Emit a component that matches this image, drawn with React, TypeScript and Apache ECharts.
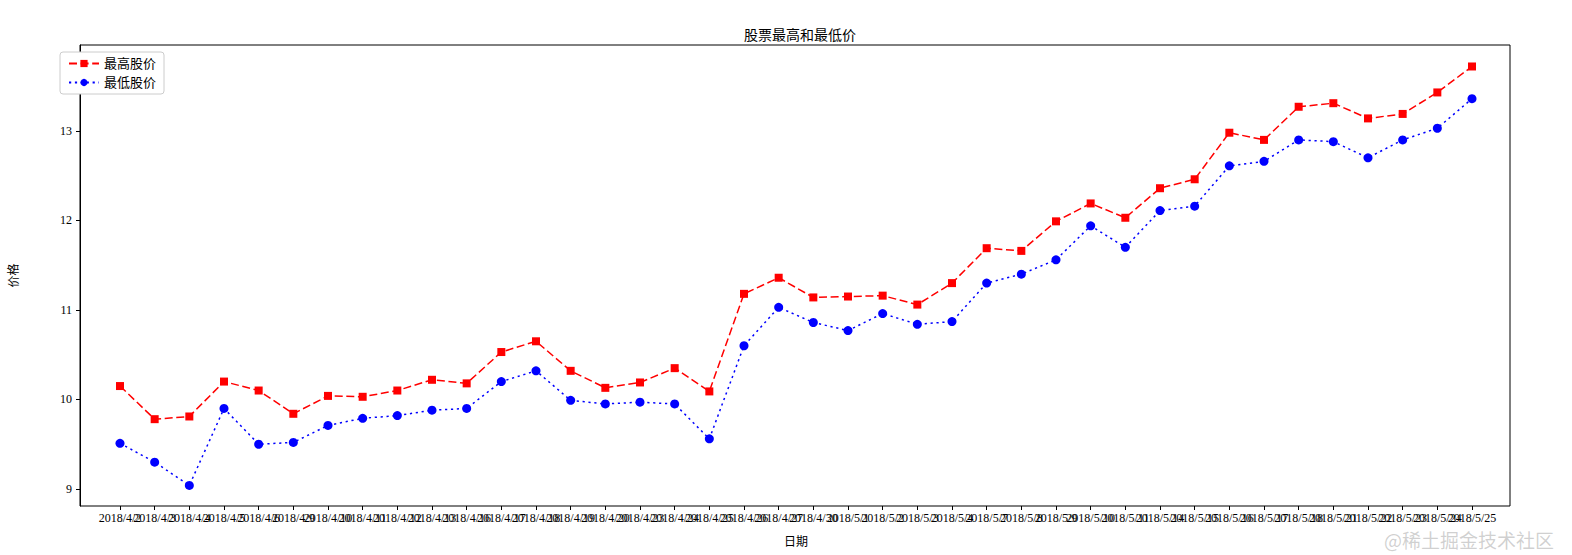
import React, { useEffect, useRef } from "react";
import * as echarts from "echarts";

const dates = [
  "2018/4/2", "2018/4/3", "2018/4/4", "2018/4/5", "2018/4/6", "2018/4/9", "2018/4/10", "2018/4/11",
  "2018/4/12", "2018/4/13", "2018/4/16", "2018/4/17", "2018/4/18", "2018/4/19", "2018/4/20", "2018/4/23",
  "2018/4/24", "2018/4/25", "2018/4/26", "2018/4/27", "2018/4/30", "2018/5/1", "2018/5/2", "2018/5/3",
  "2018/5/4", "2018/5/7", "2018/5/8", "2018/5/9", "2018/5/10", "2018/5/11", "2018/5/14", "2018/5/15",
  "2018/5/16", "2018/5/17", "2018/5/18", "2018/5/21", "2018/5/22", "2018/5/23", "2018/5/24", "2018/5/25",
];

const highPrices = [
  10.15, 9.78, 9.81, 10.2, 10.1, 9.84, 10.04, 10.03, 10.1, 10.22,
  10.18, 10.53, 10.65, 10.32, 10.13, 10.19, 10.35, 10.09, 11.18, 11.36,
  11.14, 11.15, 11.16, 11.06, 11.3, 11.69, 11.66, 11.99, 12.19, 12.03,
  12.36, 12.46, 12.98, 12.9, 13.27, 13.31, 13.14, 13.19, 13.43, 13.72,
];

const lowPrices = [
  9.51, 9.3, 9.04, 9.9, 9.5, 9.52, 9.71, 9.79, 9.82, 9.88,
  9.9, 10.2, 10.32, 9.99, 9.95, 9.97, 9.95, 9.56, 10.6, 11.03,
  10.86, 10.77, 10.96, 10.84, 10.87, 11.3, 11.4, 11.56, 11.94, 11.7,
  12.11, 12.16, 12.61, 12.66, 12.9, 12.88, 12.7, 12.9, 13.03, 13.36,
];

const yTicks = [9, 10, 11, 12, 13];

const FONT = "'Liberation Serif', 'Noto Sans CJK SC', serif";
const Y_MIN = 8.81;
const Y_MAX = 13.96;

export default function App() {
  const ref = useRef<HTMLDivElement>(null);
  useEffect(() => {
    if (!ref.current) return;
    const chart = echarts.init(ref.current, null, { renderer: "svg" });
    chart.setOption({
      animation: false,
      backgroundColor: "#fff",
      textStyle: { fontFamily: FONT },
      title: {
        text: "股票最高和最低价",
        left: 795,
        top: 23,
        textAlign: "center",
        textStyle: { fontFamily: FONT, fontSize: 14, fontWeight: "normal", color: "#000" },
      },
      legend: {
        orient: "vertical",
        left: 60,
        top: 52,
        padding: [5, 8, 5, 8],
        itemGap: 6,
        itemWidth: 30,
        itemHeight: 9,
        borderColor: "#ccc",
        borderWidth: 1,
        borderRadius: 3,
        backgroundColor: "#fff",
        textStyle: { fontFamily: FONT, fontSize: 13, color: "#000" },
        data: ["最高股价", "最低股价"],
      },
      grid: [
        {
          left: 80,
          right: 62,
          top: 45,
          bottom: 49,
          show: true,
          borderColor: "#000",
          borderWidth: 1,
          backgroundColor: "#fff",
        },
        { left: 120, right: 100, top: 45, bottom: 49 },
      ],
      xAxis: [
        {
          type: "value",
          gridIndex: 0,
          min: 0,
          max: 1,
          axisLine: { show: false },
          axisTick: { show: false },
          axisLabel: { show: false },
          splitLine: { show: false },
        },
        {
          type: "category",
          gridIndex: 1,
          data: dates,
          boundaryGap: false,
          name: "日期",
          nameLocation: "middle",
          nameGap: 30,
          nameTextStyle: { fontFamily: FONT, fontSize: 12, color: "#000" },
          axisLine: { show: false },
          axisTick: { show: true, inside: false, length: 4, interval: 0, lineStyle: { color: "#000" } },
          axisLabel: {
            interval: 0,
            color: "#000",
            fontSize: 12,
            fontFamily: FONT,
            margin: 6,
          },
          splitLine: { show: false },
        },
      ],
      yAxis: [
        {
          type: "value",
          gridIndex: 0,
          min: Y_MIN,
          max: Y_MAX,
          name: "价格",
          nameLocation: "middle",
          nameGap: 60,
          nameRotate: 90,
          nameTextStyle: { fontFamily: FONT, fontSize: 12, color: "#000" },
          axisLine: { show: true, onZero: false, lineStyle: { color: "#000" } },
          axisTick: { show: true, inside: false, length: 4, lineStyle: { color: "#000" }, customValues: yTicks },
          axisLabel: {
            customValues: yTicks,
            color: "#000",
            fontSize: 12,
            fontFamily: FONT,
            margin: 8,
          },
          splitLine: { show: false },
        },
        {
          type: "value",
          gridIndex: 1,
          min: Y_MIN,
          max: Y_MAX,
          show: false,
          splitLine: { show: false },
        },
      ],
      series: [
        {
          name: "最高股价",
          type: "line",
          xAxisIndex: 1,
          yAxisIndex: 1,
          data: highPrices,
          symbol: "rect",
          symbolSize: 8,
          itemStyle: { color: "#ff0000" },
          lineStyle: { color: "#ff0000", width: 1.5, type: [8, 3.6] },
        },
        {
          name: "最低股价",
          type: "line",
          xAxisIndex: 1,
          yAxisIndex: 1,
          data: lowPrices,
          symbol: "circle",
          symbolSize: 9,
          itemStyle: { color: "#0000ff" },
          lineStyle: { color: "#0000ff", width: 1.5, type: [2.2, 3.7] },
        },
      ],
      graphic: [
        {
          type: "text",
          right: 18,
          bottom: 6,
          style: {
            text: "@稀土掘金技术社区",
            fontFamily: "'Noto Sans CJK SC', sans-serif",
            fontSize: 19,
            fill: "rgba(120,120,120,0.35)",
          },
        },
      ],
    });
    return () => chart.dispose();
  }, []);
  return (
    <div
      ref={ref}
      style={{ position: "fixed", left: 0, top: 0, width: 1572, height: 555 }}
    />
  );
}
